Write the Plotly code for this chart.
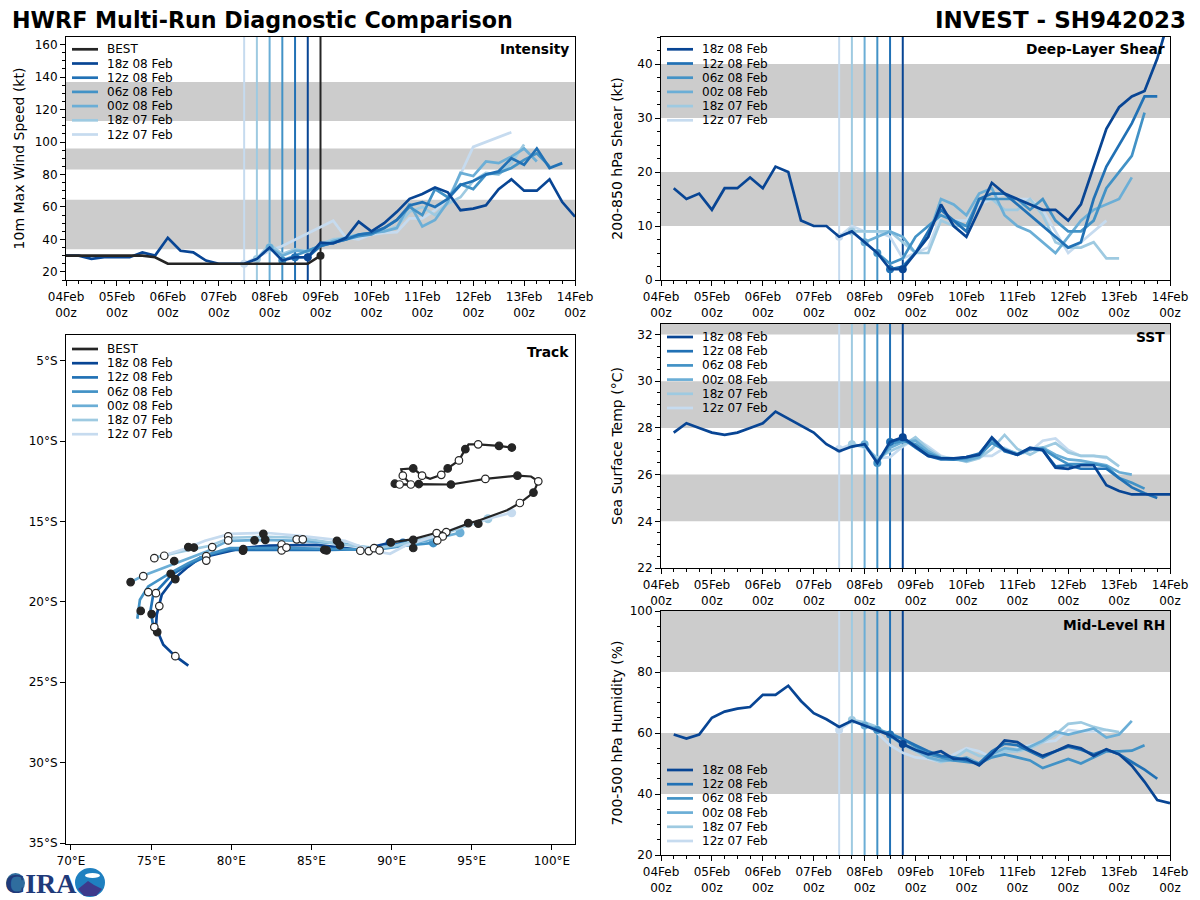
import pandas as pd
import plotly.graph_objects as go

# 6-hourly valid times
times = pd.date_range('2023-02-04 00:00', '2023-02-14 00:00', freq='6h')

run_names = ['18z 08 Feb', '12z 08 Feb', '06z 08 Feb', '00z 08 Feb', '18z 07 Feb', '12z 07 Feb']
run_colors = ['#084594', '#2171b5', '#4292c6', '#6baed6', '#9ecae1', '#c6dbef']
run_start = [19, 18, 17, 16, 15, 14]
best_color = '#252525'

# intensity (kt)
best_vmax = [30, 30, 30, 30, 30, 30, 30, 29, 25, 25, 25, 25, 25, 25, 25, 25, 25, 25, 25, 25, 30]
vmax_18z08 = [30, 30, 28, 29, 29, 29, 32, 30, 41, 33, 32, 27, 25, 25, 25, 28, 35, 27, 29, 29,
              38, 37.5, 41, 51, 45, 50, 57, 65, 68, 72, 69, 58, 59, 61, 71, 77, 70, 70, 77, 63, 54]
vmax_12z08 = [29, 29, 36, 38, 40, 43, 44, 47, 52, 61, 63, 60, 65, 73.5, 76, 80, 82, 90, 86, 96, 84, 87]
vmax_06z08 = [27, 30, 33, 36, 38, 40, 42, 43, 47, 52, 60, 55, 71, 66, 74, 71, 80, 81, 84, 89, 93, 85]
vmax_00z08 = [35, 30, 33, 33, 36, 39, 41, 43, 44, 45, 47, 62, 48, 52, 63, 81, 79, 88, 87, 91, 96, 88]
vmax_18z07 = [28, 37, 31, 34, 32, 37, 40, 41, 43, 44, 45, 48, 57, 60, 55, 62, 66, 76, 81, 80, 87, 98.5]
vmax_12z07 = [25, 29, 33, 36, 40, 44, 48, 51.5, 41, 40, 43, 44, 44.5, 53, 53, 58, 65, 80, 97, 100, 103, 106]

# deep-layer shear (kt), dark run starts at 04Feb 06z
shear_18z08 = [17, 15, 16, 13, 17, 17, 19, 17, 21, 20, 11, 10, 10, 8, 9, 7, 5, 2, 2, 5,
               8, 14, 10, 8, 13, 18, 16, 15, 14, 13, 13, 11, 14, 21, 28, 32, 34, 35, 41, 49]
shear_12z08 = [2, 2.5, 5, 9, 13, 11, 9, 15, 16, 16, 14, 12, 10, 8, 6, 7, 15, 21, 25, 29, 34, 34]
shear_06z08 = [5, 3, 4, 8, 10, 12, 11, 10, 15, 15, 15, 15, 13, 15, 11, 9, 9, 11, 17, 20, 23, 31]
shear_00z08 = [7, 8, 9, 8, 5, 8, 15, 14, 12, 16, 17, 12, 10, 9, 7, 5, 8, 11, 13, 14, 15, 19]
shear_18z07 = [9, 9, 9, 9, 7, 5, 5, 11, 10, 10, 15, 15, 13, 13, 15, 12, 7, 6, 6, 7, 4, 4]
shear_12z07 = [8, 10, 9, 9, 8, 4, 5, 6, 12, 11, 11, 14, 15, 16, 15, 15, 13, 9, 5, 7, 9, 11]

# sst (C)
sst_18z08 = [27.8, 28.2, 28.0, 27.8, 27.7, 27.8, 28.0, 28.2, 28.7, 28.4, 28.1, 27.8, 27.3, 27.0, 27.2,
             27.3, 26.5, 27.4, 27.6, 27.2, 26.8, 26.7, 26.7, 26.75, 26.85, 27.6, 27.05, 26.85, 27.15,
             27.05, 26.3, 26.25, 26.4, 26.4, 25.55, 25.3, 25.15, 25.15, 25.15, 25.15]
sst_12z08 = [27.4, 27.55, 27.15, 26.8, 26.65, 26.65, 26.75, 26.9, 27.55, 27.0, 26.85, 27.1, 27.05,
             26.35, 26.4, 26.25, 26.25, 26.25, 25.85, 25.45, 25.2, 25.0]
sst_06z08 = [26.5, 27.3, 27.45, 27.3, 26.9, 26.7, 26.65, 26.7, 26.85, 27.35, 27.05, 26.85, 27.1, 27.1,
             26.75, 26.45, 26.45, 26.45, 26.35, 25.85, 25.65, 25.4]
sst_00z08 = [27.3, 26.6, 27.15, 27.4, 27.45, 27.0, 26.7, 26.65, 26.6, 26.75, 27.4, 27.1, 26.9, 27.1,
             27.15, 26.85, 26.65, 26.6, 26.5, 26.4, 26.1, 26.0]
sst_18z07 = [27.3, 27.2, 26.7, 27.0, 27.25, 27.6, 27.1, 26.75, 26.7, 26.55, 26.7, 27.1, 27.7, 27.1,
             26.85, 27.15, 27.35, 26.95, 26.8, 26.8, 26.75, 26.35]
sst_12z07 = [27.1, 27.3, 27.15, 26.7, 26.75, 27.2, 27.55, 27.2, 26.8, 26.65, 26.65, 26.8, 26.8, 27.15,
             26.85, 27.0, 27.45, 27.55, 27.05, 26.8, 26.8, 26.7]

# mid-level rh (%)
rh_18z08 = [59.5, 58.2, 59.5, 65, 67, 68, 68.5, 72.5, 72.5, 75.5, 70.5, 66.5, 64.5, 62, 64, 62.5, 61, 59.3, 56.4,
            54.4, 53, 54, 51.5, 51.5, 49.4, 53, 57.6, 57, 54.4, 52.5, 54, 55.9, 55, 52.5, 54.7, 53, 49.3, 44, 38, 37]
rh_12z08 = [59.5, 58, 56, 54, 52.5, 52, 51, 50, 54, 56.5, 56, 54, 52, 54, 55.5, 54.5, 53, 54.5, 53, 50.5, 48, 45]
rh_06z08 = [61, 60, 58, 55.5, 53, 52, 51, 50.5, 50, 52, 53, 52, 51, 48.5, 50, 51.5, 50, 52, 54, 54, 54.2, 56]
rh_00z08 = [62.5, 61.5, 59, 56.5, 54.5, 52, 51, 51, 52, 50, 53, 55, 54.5, 55.5, 57.5, 60.4, 59.5, 60.4, 61.5, 58.5, 59.5, 64]
rh_18z07 = [64.3, 63.5, 62, 59, 56, 54, 52, 50.5, 51.5, 54.5, 52.5, 52, 54, 54, 55, 57, 59.5, 63, 63.5, 62, 61, 60.3]
rh_12z07 = [61, 64, 63, 60, 56, 53.5, 52, 51.5, 50.5, 53, 55, 54, 52, 54, 55, 56, 57, 57.5, 61, 60.5, 60.5, 61]

# track
best_lon = [97.5, 96.7, 95.4, 94.8, 94.6, 94.2, 93.5, 93.1, 92.4, 91.9, 91.35, 90.6, 90.7, 91.0, 91.2, 91.7, 90.5, 90.2]
best_lat = [-10.4, -10.3, -10.2, -10.2, -10.5, -11.2, -11.7, -12.1, -12.35, -12.15, -11.7, -11.75, -12.15, -12.45,
            -12.7, -12.67, -12.7, -12.65]
best2_lon = [90.2, 90.5, 91.2, 91.7, 93.7, 95.85, 97.85, 98.7, 99.15, 98.85, 98.0, 97.2, 95.4, 94.85, 93.4, 92.8, 91.35, 90.0]
best2_lat = [-12.65, -12.7, -12.7, -12.67, -12.7, -12.35, -12.15, -12.2, -12.5, -13.2, -13.85, -14.3, -14.95, -15.1,
             -15.65, -15.7, -16.1, -16.3]
best_filled_lon = [97.5, 96.7, 94.6, 93.5, 91.35, 91.7, 90.2, 93.7, 97.85, 98.85, 95.41, 94.78, 91.35, 89.95]
best_filled_lat = [-10.4, -10.3, -10.5, -11.7, -11.7, -12.67, -12.65, -12.7, -12.15, -13.2, -15.14, -15.1, -16.14, -16.3]
best_open_lon = [95.4, 94.2, 93.1, 91.9, 90.7, 91.2, 90.5, 95.85, 99.15, 98.0, 93.41, 92.81]
best_open_lat = [-10.2, -11.2, -12.1, -12.15, -12.15, -12.7, -12.7, -12.35, -12.5, -13.85, -15.66, -15.72]

lon_18z08 = [89.9, 88.03, 85.33, 82.41, 80.73, 78.05, 77.3, 76.36, 75.66, 75.35, 75.3, 75.76, 76.49, 77.32]
lat_18z08 = [-16.33, -16.76, -16.45, -16.5, -16.64, -17.26, -17.82, -18.63, -19.56, -20.8, -21.6, -22.67, -23.36, -23.96]
lon_12z08 = [90.71, 88.96, 86.16, 83.04, 79.92, 78.67, 77.32, 76.28, 75.13, 74.97, 75.13]
lat_12z08 = [-16.33, -16.7, -16.76, -16.76, -16.76, -17.07, -17.69, -18.32, -19.56, -20.49, -21.53]
lon_06z08 = [92.6, 90.84, 88.96, 86.16, 83.04, 79.92, 78.47, 77.32, 76.18, 74.82, 74.3, 74.14]
lat_06z08 = [-16.33, -16.51, -16.76, -16.7, -16.64, -16.66, -17.07, -17.59, -18.21, -19.04, -19.87, -21.05]
lon_00z08 = [94.27, 92.4, 90.52, 88.96, 87.09, 84.29, 82.1, 79.79, 78.42, 76.8, 75.55, 74.49, 73.72]
lat_00z08 = [-15.7, -16.14, -16.51, -16.7, -16.39, -16.2, -16.14, -16.2, -16.89, -17.51, -17.94, -18.38, -18.77]
lon_18z07 = [96.01, 94.58, 93.02, 91.46, 90.21, 88.96, 87.09, 84.29, 82.1, 79.95, 78.67, 76.49, 75.18]
lat_18z07 = [-14.83, -15.33, -15.83, -16.2, -16.51, -16.64, -16.45, -16.01, -15.95, -16.01, -16.51, -16.95, -17.26]
lon_12z07 = [97.49, 96.01, 94.27, 92.4, 90.84, 89.9, 88.78, 87.09, 84.29, 82.1, 79.92, 78.36, 77.11, 75.74]
lat_12z07 = [-14.46, -14.83, -15.33, -16.01, -16.51, -17.01, -16.82, -16.2, -15.89, -15.7, -15.77, -16.2, -16.7, -17.13]

fcst_filled_lon = [73.72, 74.35, 75.03, 75.38, 76.51, 76.22, 76.44, 77.32, 77.67, 80.75, 80.73, 81.45, 82.0, 82.12,
                   85.8, 85.95, 86.59, 86.78, 91.35]
fcst_filled_lat = [-18.77, -20.56, -20.76, -21.88, -18.58, -18.25, -17.46, -16.59, -16.62, -16.72, -16.82, -16.17,
                   -15.77, -16.14, -16.76, -16.8, -16.2, -16.48, -16.65]
fcst_open_lon = [75.2, 75.82, 74.51, 74.82, 75.3, 75.51, 75.2, 76.51, 78.81, 78.44, 78.44, 79.81, 79.81, 83.14, 83.14,
                 83.44, 84.08, 84.46, 88.05, 88.58, 88.91, 89.25, 93.19, 92.85]
fcst_open_lat = [-17.28, -17.13, -18.4, -19.39, -19.46, -20.26, -21.57, -23.38, -16.59, -17.15, -17.43, -15.93, -16.18,
                 -16.43, -16.8, -16.62, -16.11, -16.11, -16.82, -16.84, -16.66, -16.8, -15.93, -16.18]

lon_ticks = [70, 75, 80, 85, 90, 95, 100]
lon_labels = ['70°E', '75°E', '80°E', '85°E', '90°E', '95°E', '100°E']
lat_ticks = [-5, -10, -15, -20, -25, -30, -35]
lat_labels = ['5°S', '10°S', '15°S', '20°S', '25°S', '30°S', '35°S']

vmax_bands = [(34, 64.5), (83, 96), (113, 137)]
shear_bands = [(10, 20), (30, 40)]
sst_bands = [(24, 26), (28, 30), (32, 32.45)]
rh_bands = [(40, 60), (80, 100)]


def px_x(px):
    return px / 1200


def px_y(py):
    return 1 - py / 900


FONT = 'DejaVu Sans'
GREY = '#cccccc'
LINE_WIDTH = 2.7

fig = go.Figure()
shapes = []
annotations = []


def style_time_axis(name, anchor, left, right):
    fig.update_layout({name: dict(
        domain=[px_x(left), px_x(right)], anchor=anchor, automargin=False,
        type='date', range=[times[0], times[-1]],
        dtick=86400000, tick0='2023-02-04', tickformat='%d%b<br>%Hz',
        ticks='outside', ticklen=5, tickwidth=1, tickcolor='black', ticklabelstandoff=1,
        minor=dict(dtick=21600000, tick0='2023-02-04', ticks='outside', ticklen=3, tickwidth=1, tickcolor='black'),
        showgrid=False, showline=True, linecolor='black', linewidth=1, mirror=True, zeroline=False,
        tickfont=dict(size=12, color='black'),
    )})


def style_value_axis(name, anchor, top, bottom, yrange, major, minor, title, standoff):
    fig.update_layout({name: dict(
        domain=[px_y(bottom), px_y(top)], anchor=anchor, range=yrange, automargin=False,
        tick0=0, dtick=major,
        ticks='outside', ticklen=5, tickwidth=1, tickcolor='black',
        minor=dict(tick0=0, dtick=minor, ticks='outside', ticklen=3, tickwidth=1, tickcolor='black'),
        showgrid=False, showline=True, linecolor='black', linewidth=1, mirror=True, zeroline=False,
        tickfont=dict(size=12, color='black'),
        title=dict(text=title, font=dict(size=14, color='black'), standoff=standoff),
    )})


def add_bands(xref, yref, bands):
    for low, high in bands:
        shapes.append(dict(type='rect', layer='below', xref=xref, yref=yref,
                           x0=times[0], x1=times[-1], y0=low, y1=high,
                           fillcolor=GREY, line=dict(width=0)))


def add_panel_label(text, px, py):
    annotations.append(dict(text=text, xref='paper', yref='paper', x=px_x(px + 2), y=px_y(py + 1),
                            xanchor='right', yanchor='middle', showarrow=False,
                            font=dict(family=FONT, size=13.8, color='black', weight='bold')))


def add_legend(left, first_row, names, colors):
    for i, (name, color) in enumerate(zip(names, colors)):
        row = first_row + i * 14.2
        shapes.append(dict(type='line', xref='paper', yref='paper',
                           x0=px_x(left), x1=px_x(left + 26), y0=px_y(row), y1=px_y(row),
                           line=dict(color=color, width=LINE_WIDTH)))
        annotations.append(dict(text=name, xref='paper', yref='paper', x=px_x(left + 33), y=px_y(row),
                                xanchor='left', yanchor='middle', showarrow=False,
                                font=dict(family=FONT, size=12, color='black')))


def add_time_panel(xname, yname, yrange, series, bands):
    xref, yref = xname, yname
    add_bands(xref, yref, bands)
    for start, color in zip(run_start, run_colors):
        shapes.append(dict(type='line', layer='below', xref=xref, yref=yref,
                           x0=times[start], x1=times[start], y0=yrange[0], y1=yrange[1],
                           line=dict(color=color, width=2)))
    # lightest first so the latest run stays on top
    for values, first, start, color, name in reversed(series):
        x = times[first:first + len(values)]
        fig.add_trace(go.Scatter(x=x, y=values, mode='lines', name=name, showlegend=False,
                                 xaxis=xref, yaxis=yref,
                                 line=dict(color=color, width=LINE_WIDTH)))
        fig.add_trace(go.Scatter(x=[times[start]], y=[values[start - first]], mode='markers',
                                 showlegend=False, hoverinfo='skip', xaxis=xref, yaxis=yref,
                                 marker=dict(color=color, size=8)))


def run_series(run_values, first_dark):
    firsts = [first_dark] + run_start[1:]
    return list(zip(run_values, firsts, run_start, run_colors, run_names))


# intensity
vmax_range = [15, 164.7]
style_time_axis('xaxis', 'y', 66, 575)
style_value_axis('yaxis', 'x', 37, 280, vmax_range, 20, 5, '10m Max Wind Speed (kt)', 6)
add_time_panel('x', 'y', vmax_range, run_series([vmax_18z08, vmax_12z08, vmax_06z08, vmax_00z08, vmax_18z07, vmax_12z07], 0), vmax_bands)
shapes.append(dict(type='line', layer='below', xref='x', yref='y',
                   x0=times[20], x1=times[20], y0=vmax_range[0], y1=vmax_range[1], line=dict(color=best_color, width=2)))
fig.add_trace(go.Scatter(x=times[:len(best_vmax)], y=best_vmax, mode='lines', name='BEST', showlegend=False,
                         xaxis='x', yaxis='y', line=dict(color=best_color, width=LINE_WIDTH)))
fig.add_trace(go.Scatter(x=[times[20]], y=[best_vmax[20]], mode='markers', showlegend=False, hoverinfo='skip',
                         xaxis='x', yaxis='y', marker=dict(color=best_color, size=8)))
add_panel_label('Intensity', 569, 48)
add_legend(72, 49.3, ['BEST'] + run_names, [best_color] + run_colors)

# shear
style_time_axis('xaxis2', 'y2', 661, 1170)
style_value_axis('yaxis2', 'x2', 37, 280, [0, 45], 10, 2.5, '200-850 hPa Shear (kt)', 11)
add_time_panel('x2', 'y2', [0, 45], run_series([shear_18z08, shear_12z08, shear_06z08, shear_00z08, shear_18z07, shear_12z07], 1), shear_bands)
add_panel_label('Deep-Layer Shear', 1165, 48)
add_legend(667, 49.3, run_names, run_colors)

# sst
style_time_axis('xaxis3', 'y3', 661, 1170)
style_value_axis('yaxis3', 'x3', 324, 568, [22, 32.45], 2, 0.5, 'Sea Surface Temp (°C)', 11)
add_time_panel('x3', 'y3', [22, 32.45], run_series([sst_18z08, sst_12z08, sst_06z08, sst_00z08, sst_18z07, sst_12z07], 1), sst_bands)
add_panel_label('SST', 1165, 336)
add_legend(667, 337, run_names, run_colors)

# rh
style_time_axis('xaxis4', 'y4', 661, 1170)
style_value_axis('yaxis4', 'x4', 611, 855, [20, 100], 20, 5, '700-500 hPa Humidity (%)', 3)
add_time_panel('x4', 'y4', [20, 100], run_series([rh_18z08, rh_12z08, rh_06z08, rh_00z08, rh_18z07, rh_12z07], 1), rh_bands)
add_panel_label('Mid-Level RH', 1165, 624)
add_legend(667, 770, run_names, run_colors)

# track
track_lons = [lon_18z08, lon_12z08, lon_06z08, lon_00z08, lon_18z07, lon_12z07]
track_lats = [lat_18z08, lat_12z08, lat_06z08, lat_00z08, lat_18z07, lat_12z07]
for lon, lat, color, name in zip(track_lons, track_lats, run_colors, run_names):
    fig.add_trace(go.Scatter(x=lon, y=lat, mode='lines', name=name, showlegend=False, xaxis='x5', yaxis='y5',
                             line=dict(color=color, width=LINE_WIDTH)))
    fig.add_trace(go.Scatter(x=[lon[0]], y=[lat[0]], mode='markers', showlegend=False, hoverinfo='skip',
                             xaxis='x5', yaxis='y5', marker=dict(color=color, size=9)))
for lon, lat in [(best_lon, best_lat), (best2_lon, best2_lat)]:
    fig.add_trace(go.Scatter(x=lon, y=lat, mode='lines', name='BEST', showlegend=False, xaxis='x5', yaxis='y5',
                             line=dict(color=best_color, width=2.2)))
for lon, lat, fill in [(best_filled_lon, best_filled_lat, best_color), (fcst_filled_lon, fcst_filled_lat, best_color),
                       (best_open_lon, best_open_lat, 'white'), (fcst_open_lon, fcst_open_lat, 'white')]:
    fig.add_trace(go.Scatter(x=lon, y=lat, mode='markers', showlegend=False, hoverinfo='skip', xaxis='x5', yaxis='y5',
                             marker=dict(color=fill, size=7.5, line=dict(color=best_color, width=1.2))))

axis_common = dict(ticks='outside', ticklen=5, tickwidth=1, tickcolor='black', showgrid=False, showline=True,
                   linecolor='black', linewidth=1, mirror=True, zeroline=False, automargin=False,
                   tickfont=dict(size=12, color='black'), tickmode='array')
fig.update_layout(
    xaxis5=dict(domain=[px_x(66), px_x(575)], anchor='y5', range=[69.69, 101.44],
                tickvals=lon_ticks, ticktext=lon_labels, ticklabelstandoff=1, **axis_common),
    yaxis5=dict(domain=[px_y(844), px_y(335)], anchor='x5', range=[-35.06, -3.4],
                tickvals=lat_ticks, ticktext=lat_labels, **axis_common),
)
add_panel_label('Track', 569, 351)
add_legend(72, 349, ['BEST'] + run_names, [best_color] + run_colors)

# header
annotations.append(dict(text='INVEST - SH942023', xref='paper', yref='paper', x=px_x(1188), y=px_y(20),
                        xanchor='right', yanchor='middle', showarrow=False,
                        font=dict(family=FONT, size=23, color='black', weight='bold')))

# logo, rough stand-in
shapes.append(dict(type='circle', xref='paper', yref='paper', fillcolor='#2f6d9e', line=dict(width=0), layer='below',
                   x0=px_x(6), x1=px_x(25), y0=px_y(893), y1=px_y(873)))
annotations.append(dict(text='CIRA', xref='paper', yref='paper', x=px_x(3), y=px_y(883),
                        xanchor='left', yanchor='middle', showarrow=False,
                        font=dict(family='Liberation Serif', size=28, color='#1f3a7a', weight='bold')))
shapes.append(dict(type='circle', xref='paper', yref='paper', fillcolor='#1f80c0', line=dict(width=0),
                   x0=px_x(75), x1=px_x(105), y0=px_y(897), y1=px_y(868)))
shapes.append(dict(type='circle', xref='paper', yref='paper', fillcolor='white', line=dict(width=0),
                   x0=px_x(85), x1=px_x(100), y0=px_y(878), y1=px_y(873)))
shapes.append(dict(type='path', xref='paper', yref='paper', fillcolor='#3d3a8c', line=dict(width=0),
                   path=f'M {px_x(78)} {px_y(889)} L {px_x(88)} {px_y(881)} L {px_x(94)} {px_y(885)} '
                        f'L {px_x(102)} {px_y(889)} L {px_x(96)} {px_y(896)} L {px_x(84)} {px_y(896)} Z'))

fig.update_layout(
    width=1200, height=900,
    margin=dict(l=0, r=0, t=0, b=0),
    paper_bgcolor='white', plot_bgcolor='white',
    font=dict(family=FONT, size=12, color='black'),
    showlegend=False,
    title=dict(text='<b>HWRF Multi-Run Diagnostic Comparison</b>', x=12 / 1200, xanchor='left',
               y=px_y(20), yanchor='middle', font=dict(family=FONT, size=22.2, color='black')),
    shapes=shapes,
    annotations=annotations,
)

fig.write_html('out.html', config={'displayModeBar': False},
               post_script="document.body.style.margin='0';document.documentElement.style.overflow='hidden';")
